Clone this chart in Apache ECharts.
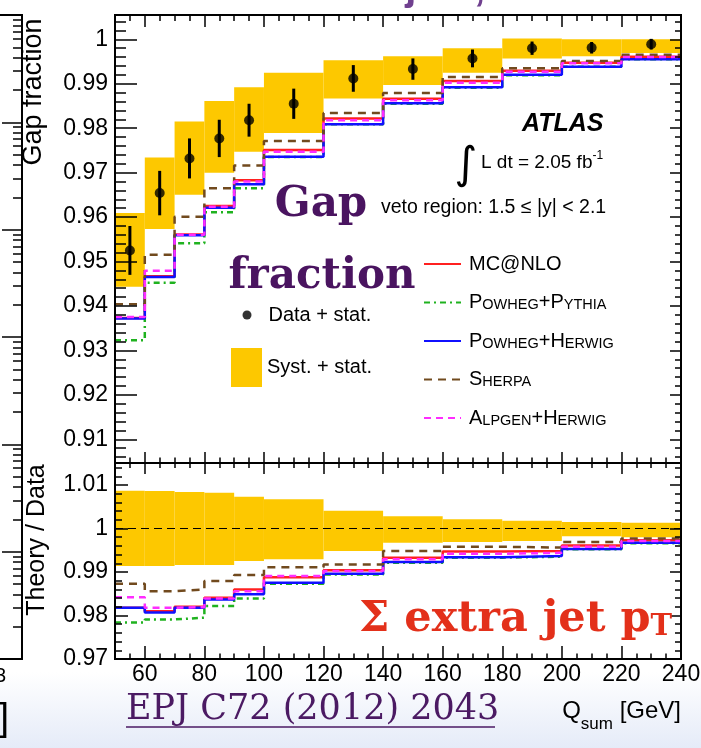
<!DOCTYPE html>
<html><head><meta charset="utf-8">
<script src="https://cdn.jsdelivr.net/npm/echarts@6/dist/echarts.min.js"></script>
<style>html,body{margin:0;padding:0;background:#fff}#c{width:701px;height:748px}</style>
</head><body><div id="c"></div>
<script>
const binEdges = [50,60,70,80,90,100,120,140,160,180,200,220,240];
const xTickLabels = [60,80,100,120,140,160,180,200,220,240];
const gapTickLabels = [0.91,0.92,0.93,0.94,0.95,0.96,0.97,0.98,0.99,1];
const ratioTickLabels = [0.97,0.98,0.99,1,1.01];
const gapData     = [0.9525,0.9654,0.9732,0.9777,0.9818,0.9855,0.9912,0.9933,0.9957,0.9980,0.9981,0.9989];
const gapStatErr  = [0.0055,0.0050,0.0045,0.0042,0.0037,0.0034,0.0030,0.0024,0.0020,0.0015,0.0013,0.0012];
const gapSystLow  = [0.9443,0.9573,0.9650,0.9700,0.9747,0.9789,0.9867,0.9897,0.9925,0.9957,0.9962,0.9969];
const gapSystHigh = [0.9609,0.9734,0.9815,0.9861,0.9892,0.9925,0.9953,0.9962,0.9980,1.0002,1.0000,1.0000];
const gapMcnlo        = [0.9373,0.9467,0.9561,0.9625,0.9683,0.9751,0.9822,0.9866,0.9906,0.9929,0.9947,0.9961];
const gapPowhegPythia = [0.9323,0.9452,0.9541,0.9611,0.9665,0.9735,0.9809,0.9855,0.9891,0.9919,0.9938,0.9955];
const gapPowhegHerwig = [0.9372,0.9465,0.9559,0.9621,0.9674,0.9736,0.9809,0.9856,0.9892,0.9920,0.9938,0.9955];
const gapSherpa       = [0.9404,0.9515,0.9601,0.9665,0.9716,0.9771,0.9834,0.9879,0.9915,0.9935,0.9951,0.9965];
const gapAlpgenHerwig = [0.9375,0.9479,0.9560,0.9623,0.9680,0.9747,0.9818,0.9863,0.9902,0.9927,0.9946,0.9960];
const ratioSystLow  = [0.9914,0.9914,0.9916,0.9916,0.9925,0.9929,0.9948,0.9967,0.9969,0.9971,0.9982,0.9980];
const ratioSystHigh = [1.0087,1.0086,1.0084,1.0082,1.0073,1.0067,1.0041,1.0028,1.0021,1.0018,1.0015,1.0013];
const ratioMcnlo        = [0.9818,0.9810,0.9820,0.9841,0.9860,0.9888,0.9904,0.9933,0.9947,0.9948,0.9961,0.9973];
const ratioPowhegPythia = [0.9784,0.9791,0.9795,0.9822,0.9839,0.9873,0.9894,0.9921,0.9933,0.9935,0.9952,0.9966];
const ratioPowhegHerwig = [0.9818,0.9807,0.9818,0.9837,0.9849,0.9875,0.9896,0.9923,0.9934,0.9937,0.9953,0.9967];
const ratioSherpa       = [0.9873,0.9856,0.9860,0.9879,0.9893,0.9911,0.9917,0.9948,0.9958,0.9956,0.9969,0.9977];
const ratioAlpgenHerwig = [0.9842,0.9818,0.9819,0.9839,0.9856,0.9891,0.9902,0.9929,0.9942,0.9944,0.9958,0.9971];

const SANS = 'Liberation Sans';
const SERIF = 'DejaVu Serif';
const X_MIN = 50, X_MAX = 240;
const TOP_MIN = 0.90467, TOP_MAX = 1.00547;
const LOW_MIN = 0.97, LOW_MAX = 1.01505;

function stepData(vals){ return binEdges.map((e,i)=>[e, vals[Math.min(i, vals.length-1)]]); }
function bandData(lo, hi){ return lo.map((v,i)=>[binEdges[i], binEdges[i+1], v, hi[i]]); }
function centers(){ return binEdges.slice(0,-1).map((e,i)=>(e+binEdges[i+1])/2); }

const xMinor = []; for (let v=55; v<240; v+=5){ if (v%20!==0) xMinor.push(v); }
const topMinor = []; for (let k=453; k<=502; k++){ if (k%5!==0) topMinor.push(k/500); }
const lowMinor = []; for (let k=485; k<=507; k++){ if (k%5!==0) lowMinor.push(k/500); }
const logMajor = [1,10,100,1000,10000,100000,1000000];
const logMinor = []; for (let d=0; d<6; d++){ for (let m=2; m<=9; m++) logMinor.push(m*Math.pow(10,d)); }

function axis(gridIndex, position, min, max, ticks, len, labelOpt, lineW, type){
  return {type: type||'value', gridIndex, position, offset:0, min, max, z: 5,
    axisLine:{show:true, onZero:false, lineStyle:{color:'#000', width:lineW}},
    axisTick:{show:true, inside:true, length:len, customValues:ticks, lineStyle:{color:'#000', width:1.5}},
    axisLabel: labelOpt ? Object.assign({show:true, customValues:ticks, fontSize:23, color:'#000', fontFamily:SANS}, labelOpt) : {show:false},
    splitLine:{show:false}, minorTick:{show:false}};
}
const yFmt = v => (Math.abs(v-1)<1e-9 ? '1' : v.toFixed(2));

const xAxes = [
  axis(0,'bottom',X_MIN,X_MAX,xTickLabels,11,null,2),
  axis(0,'bottom',X_MIN,X_MAX,xMinor,5.5,null,2),
  axis(0,'top',X_MIN,X_MAX,xTickLabels,12,null,2),
  axis(0,'top',X_MIN,X_MAX,xMinor,6,null,2),
  axis(1,'bottom',X_MIN,X_MAX,xTickLabels,13,{margin:4},2),
  axis(1,'bottom',X_MIN,X_MAX,xMinor,5.5,null,2),
  axis(1,'top',X_MIN,X_MAX,xTickLabels,11,null,2),
  axis(1,'top',X_MIN,X_MAX,xMinor,5,null,2),
  axis(2,'bottom',0,1,[],0,null,2),
  axis(2,'top',0,1,[],0,null,2)
];
const yAxes = [
  axis(0,'left',TOP_MIN,TOP_MAX,gapTickLabels,22,{margin:7,formatter:yFmt},2),
  axis(0,'left',TOP_MIN,TOP_MAX,topMinor,11,null,2),
  axis(0,'right',TOP_MIN,TOP_MAX,gapTickLabels,11,null,2),
  axis(0,'right',TOP_MIN,TOP_MAX,topMinor,6,null,2),
  axis(1,'left',LOW_MIN,LOW_MAX,ratioTickLabels,13,{margin:7,formatter:yFmt},2),
  axis(1,'left',LOW_MIN,LOW_MAX,lowMinor,7,null,2),
  axis(1,'right',LOW_MIN,LOW_MAX,ratioTickLabels,11,null,2),
  axis(1,'right',LOW_MIN,LOW_MAX,lowMinor,6,null,2),
  axis(2,'right',1,1000000,logMajor,20,null,2,'log'),
  axis(2,'right',1,1000000,logMinor,9,null,2,'log')
];

function bandRender(params, api){
  const p0 = api.coord([api.value(0), api.value(3)]);
  const p1 = api.coord([api.value(1), api.value(2)]);
  return {type:'rect', shape:{x:p0[0], y:p0[1], width:p1[0]-p0[0], height:p1[1]-p0[1]}, style:{fill:'#fdc800'}};
}
function errRender(params, api){
  const c = api.value(0), v = api.value(1), e = api.value(2);
  const a = api.coord([c, v-e]), b = api.coord([c, v+e]);
  return {type:'line', shape:{x1:a[0], y1:a[1], x2:b[0], y2:b[1]}, style:{stroke:'#000', lineWidth:3}};
}
const mcStyles = [
  {name:'MC@NLO',        color:'#ff2020', type:'solid'},
  {name:'Powheg+Pythia', color:'#1fb21f', type:[6,4,2,4]},
  {name:'Powheg+Herwig', color:'#1010ff', type:'solid'},
  {name:'Sherpa',        color:'#714a1e', type:[8,6]},
  {name:'Alpgen+Herwig', color:'#ff2cff', type:[7,5]}
];
const topMC = [gapMcnlo, gapPowhegPythia, gapPowhegHerwig, gapSherpa, gapAlpgenHerwig];
const lowMC = [ratioMcnlo, ratioPowhegPythia, ratioPowhegHerwig, ratioSherpa, ratioAlpgenHerwig];

const series = [];
series.push({name:'Syst. + stat.', type:'custom', xAxisIndex:0, yAxisIndex:0, z:1,
  itemStyle:{color:'#fdc800'}, renderItem:bandRender, encode:{x:[0,1], y:[2,3]}, data: bandData(gapSystLow, gapSystHigh)});
mcStyles.forEach((s,i)=>{
  series.push({name:s.name, type:'line', step:'end', xAxisIndex:0, yAxisIndex:0, z:2+i*0.1,
    symbol:'none', color:s.color, lineStyle:{color:s.color, width:2.5, type:s.type}, data: stepData(topMC[i])});
});
series.push({name:'err', type:'custom', xAxisIndex:0, yAxisIndex:0, z:4, renderItem:errRender,
  encode:{x:0, y:1}, data: centers().map((c,i)=>[c, gapData[i], gapStatErr[i]])});
series.push({name:'Data + stat.', type:'scatter', xAxisIndex:0, yAxisIndex:0, z:5, symbol:'circle', symbolSize:10,
  itemStyle:{color:'#000'}, data: centers().map((c,i)=>[c, gapData[i]])});
series.push({name:'ratioBand', type:'custom', xAxisIndex:4, yAxisIndex:4, z:1,
  itemStyle:{color:'#fdc800'}, renderItem:bandRender, encode:{x:[0,1], y:[2,3]}, data: bandData(ratioSystLow, ratioSystHigh),
  markLine:{silent:true, symbol:'none', label:{show:false}, z:3, lineStyle:{color:'#000', width:1.2, type:[8,5]}, data:[{yAxis:1}]}});
mcStyles.forEach((s,i)=>{
  series.push({name:s.name, type:'line', step:'end', xAxisIndex:4, yAxisIndex:4, z:2+i*0.1,
    symbol:'none', color:s.color, lineStyle:{color:s.color, width:2.5, type:s.type}, data: stepData(lowMC[i])});
});

const scRich = {
  a:{fontSize:20, lineHeight:20, verticalAlign:'bottom', fontFamily:SANS, color:'#000'},
  b:{fontSize:14.5, lineHeight:14.5, verticalAlign:'bottom', fontFamily:SANS, color:'#000'}
};
const scNames = {
  'MC@NLO':'{a|MC@NLO}',
  'Powheg+Pythia':'{a|P}{b|OWHEG}{a|+P}{b|YTHIA}',
  'Powheg+Herwig':'{a|P}{b|OWHEG}{a|+H}{b|ERWIG}',
  'Sherpa':'{a|S}{b|HERPA}',
  'Alpgen+Herwig':'{a|A}{b|LPGEN}{a|+H}{b|ERWIG}'
};
const graphics = [
  {type:'rect', z:-10, shape:{x:0, y:672, width:701, height:76},
   style:{fill:new echarts.graphic.LinearGradient(0,0,0,1,[{offset:0,color:'#ffffff'},{offset:1,color:'#e5ebf8'}])}},
  {type:'text', x:167, y:-11, style:{text:'ATLAS : tt\u0304 + jets, 7 TeV', font:'bold 40px '+SANS, fill:'#70408f', align:'left', verticalAlign:'middle'}},
  {type:'text', x:522, y:124, z:20, style:{text:'ATLAS', font:'italic bold 25px '+SANS, fill:'#000', align:'left', verticalAlign:'middle'}},
  {type:'text', x:466, y:167, z:20, style:{text:'\u222B', font:'44px DejaVu Sans', fill:'#000', align:'center', verticalAlign:'middle'}},
  {type:'text', x:481, y:163, z:20, style:{text:'{n|L dt = 2.05 fb}{s|-1}', align:'left', verticalAlign:'middle',
    rich:{n:{fontSize:19, lineHeight:26, fontFamily:SANS, fill:'#000'}, s:{fontSize:12, lineHeight:12, verticalAlign:'top', fontFamily:SANS, fill:'#000'}}}},
  {type:'text', x:381, y:208, z:20, style:{text:'veto region: 1.5 \u2264 |y| < 2.1', font:'19.5px '+SANS, fill:'#000', align:'left', verticalAlign:'middle'}},
  {type:'text', x:321, y:205, z:20, style:{text:'Gap', font:'bold 42px '+SERIF, fill:'#4a1460', align:'center', verticalAlign:'middle'}},
  {type:'text', x:322, y:277, z:20, style:{text:'fraction', font:'bold 42px '+SERIF, fill:'#4a1460', align:'center', verticalAlign:'middle'}},
  {type:'text', x:359, y:620, z:20, style:{text:'{m|\u03A3 extra jet p}{s|T}', align:'left', verticalAlign:'middle',
    rich:{m:{fontSize:43, lineHeight:43, fontWeight:'bold', fontFamily:SERIF, fill:'#e3301a', verticalAlign:'bottom'},
          s:{fontSize:29, lineHeight:29, fontWeight:'bold', fontFamily:SERIF, fill:'#e3301a', verticalAlign:'bottom'}}}},
  {type:'text', x:126, y:710, z:20, style:{text:'EPJ C72 (2012) 2043', font:'35px '+SERIF, fill:'#4b1a63', align:'left', verticalAlign:'middle'}},
  {type:'line', z:20, shape:{x1:126, y1:727, x2:495, y2:727}, style:{stroke:'#4b1a63', lineWidth:1.5}},
  {type:'text', x:681, y:716, z:20, style:{text:'{q|Q}{s|sum}{h|\u200b}{q| [GeV]}', align:'right', verticalAlign:'middle',
    rich:{q:{fontSize:24, lineHeight:24, verticalAlign:'top', fontFamily:SANS, fill:'#000'},
          s:{fontSize:17, lineHeight:17, verticalAlign:'bottom', fontFamily:SANS, fill:'#000'},
          h:{fontSize:1, lineHeight:33, fontFamily:SANS}}}},
  {type:'text', x:34, y:92, rotation:Math.PI/2, z:20, style:{text:'Gap fraction', font:'27px '+SANS, fill:'#000', align:'center', verticalAlign:'middle'}},
  {type:'text', x:37, y:540, rotation:Math.PI/2, z:20, style:{text:'Theory / Data', font:'25px '+SANS, fill:'#000', align:'center', verticalAlign:'middle'}},
  {type:'text', x:6, y:676, style:{text:'3', font:'20px '+SANS, fill:'#000', align:'right', verticalAlign:'middle'}},
  {type:'text', x:9, y:720, style:{text:']', font:'38px '+SANS, fill:'#000', align:'right', verticalAlign:'middle'}}
];
const option = {
  backgroundColor:'#ffffff', animation:false, textStyle:{fontFamily:SANS},
  grid:[
    {left:115, top:15, width:566, height:448, containLabel:false, outerBoundsMode:'none'},
    {left:115, top:463, width:566, height:196, containLabel:false, outerBoundsMode:'none'},
    {left:-300, top:15, width:322, height:644, containLabel:false, outerBoundsMode:'none'}
  ],
  xAxis:xAxes, yAxis:yAxes,
  legend:[
    {data:['MC@NLO','Powheg+Pythia','Powheg+Herwig','Sherpa','Alpgen+Herwig'], orient:'vertical',
     left:423, top:254, padding:0, itemWidth:37, itemHeight:20, itemGap:18.5, selectedMode:false,
     itemStyle:{opacity:0}, lineStyle:{width:2},
     formatter:n=>scNames[n], textStyle:{fontSize:20, lineHeight:20, color:'#000', padding:[0,0,0,3], rich:scRich}},
    {data:[{name:'Data + stat.', icon:'circle'}], orient:'vertical', left:242.5, top:305, padding:0,
     itemWidth:9, itemHeight:9, selectedMode:false, textStyle:{fontSize:20, lineHeight:20, color:'#000', fontFamily:SANS, padding:[0,0,0,12]}},
    {data:[{name:'Syst. + stat.', icon:'rect'}], orient:'vertical', left:231, top:348, padding:0,
     itemWidth:31, itemHeight:39, selectedMode:false, textStyle:{fontSize:20, lineHeight:20, color:'#000', fontFamily:SANS}}
  ],
  graphic:graphics, series:series
};
const chart = echarts.init(document.getElementById('c'));
chart.setOption(option);
</script></body></html>
